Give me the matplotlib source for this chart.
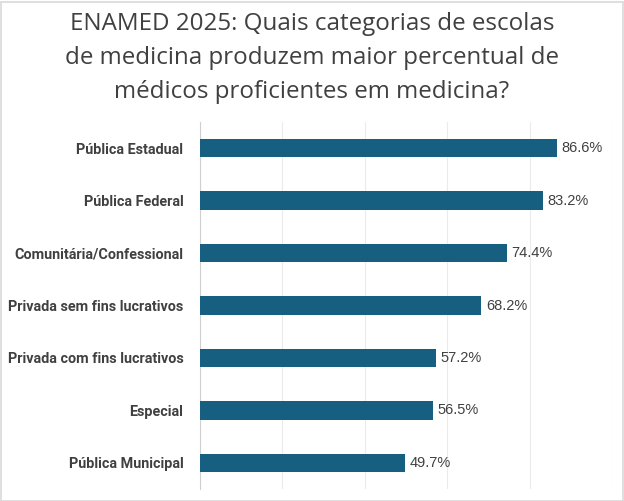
import matplotlib
matplotlib.use('Agg')
import matplotlib.pyplot as plt
from matplotlib.patches import Rectangle

categorias = ['Pública Estadual', 'Pública Federal', 'Comunitária/Confessional',
              'Privada sem fins lucrativos', 'Privada com fins lucrativos',
              'Especial', 'Pública Municipal']
percentuais = [86.6, 83.2, 74.4, 68.2, 57.2, 56.5, 49.7]
ticks_x = [0, 20, 40, 60, 80, 100]

titulo = ('ENAMED 2025: Quais categorias de escolas\n'
          'de medicina produzem maior percentual de\n'
          'médicos proficientes em medicina?')

cor_barra = '#175F80'
cor_texto = '#404040'

fig = plt.figure(figsize=(6.24, 5.01), dpi=100)
ax = fig.add_axes([200/624, 1 - 489/501, 412/624, 367/501])

y = list(range(len(categorias)))
ax.barh(y, percentuais, height=0.35, color=cor_barra, zorder=3)
ax.set_ylim(len(categorias) - 0.5, -0.5)
ax.set_xlim(0, 100)

for yi, v in zip(y, percentuais):
    ax.text(v + 1.2, yi, f'{v:.1f}%', va='center', ha='left',
            fontsize=10.5, color=cor_texto, family='Liberation Sans')

ax.set_yticks(y)
ax.set_yticklabels(categorias, fontsize=10.4, fontweight='bold', color=cor_texto,
                   family=['Liberation Sans Narrow', 'Roboto', 'DejaVu Sans'])
ax.tick_params(axis='y', length=0, pad=12)
ax.set_xticks(ticks_x)
ax.set_xticklabels([])
ax.tick_params(axis='x', length=0)
ax.grid(axis='x', color='#EBEBEB', linewidth=0.8, zorder=0)
for s in ['top', 'right', 'bottom']:
    ax.spines[s].set_visible(False)
ax.spines['left'].set_color('#D0D0D0')
ax.spines['left'].set_linewidth(0.8)

fig.text(0.5, 1 - 58/501, titulo, ha='center', va='center', fontsize=17.4,
         color=cor_texto, family='Open Sans', linespacing=1.56)

fig.patches.append(Rectangle((0.5/624, 0.5/501), 622/624, 499/501,
                             transform=fig.transFigure, fill=False,
                             edgecolor='#D9D9D9', linewidth=1.2))

fig.savefig('out.png', dpi=100)
